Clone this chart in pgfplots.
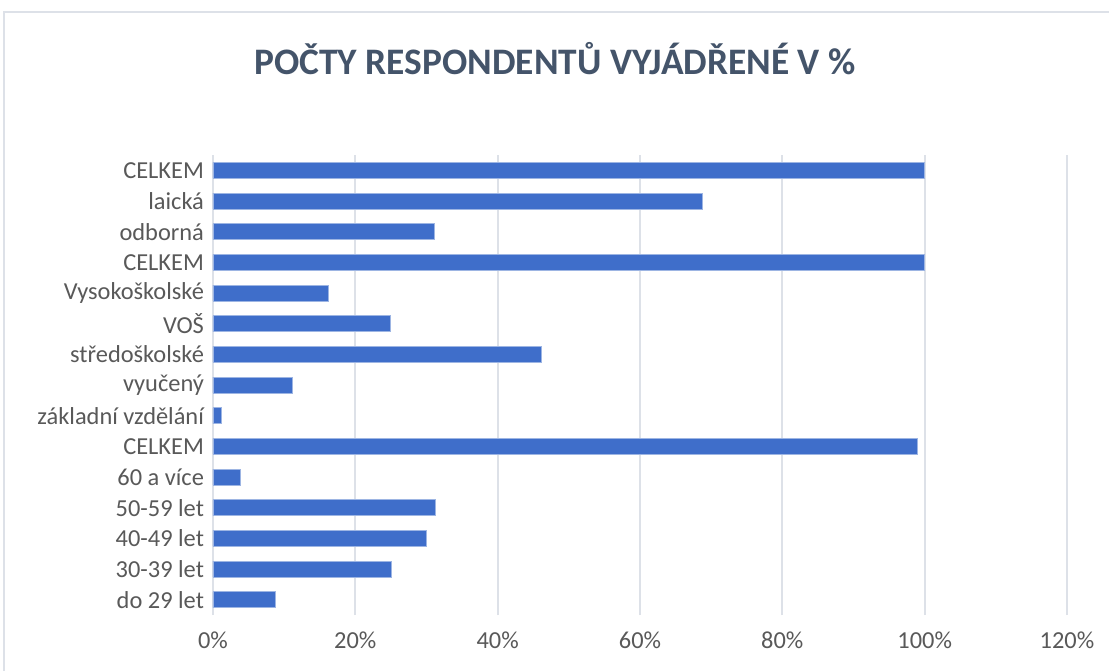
\documentclass[border=0pt]{standalone}
\usepackage{pgfplots}
\pgfplotsset{compat=1.18}
\usepackage{fontspec}
\setmainfont{Carlito}
\definecolor{titlec}{HTML}{44546A}
\definecolor{labc}{HTML}{595959}
\definecolor{gridc}{HTML}{DDE1E8}
\definecolor{barc}{HTML}{3F6ECA}
\definecolor{baredge}{HTML}{9DB5E3}
\begin{document}
\begin{tikzpicture}
\useasboundingbox (0,0) rectangle (554.5pt,335.5pt);
\fill[white] (0,0) rectangle (554.5pt,335.5pt);
\draw[gridc, line width=0.8pt] (2pt,0) -- (2pt,329.5pt) -- (554.5pt,329.5pt);
\node[font=\fontsize{18.7}{22}\selectfont\bfseries, text=titlec] at (277.5pt,306pt) {POČTY RESPONDENTŮ VYJÁDŘENÉ V \%};
\begin{axis}[
  at={(106.5pt,28pt)}, anchor=south west,
  scale only axis, width=427pt, height=230pt,
  xmin=0, xmax=120, ymin=-0.5, ymax=14.5,
  xtick={0,20,...,120},
  xticklabel={\pgfmathprintnumber{\tick}\%},
  /pgf/number format/assume math mode=true,
  ytick={0,...,14},
  yticklabels={do 29 let,30-39 let,40-49 let,50-59 let,60 a více,CELKEM,základní vzdělání,vyučený,středoškolské,VOŠ,Vysokoškolské,CELKEM,odborná,laická,CELKEM},
  axis line style={draw=none},
  major tick length=0pt,
  xmajorgrids, grid style={gridc, line width=0.9pt},
  tick label style={font=\fontsize{12.2}{14}\selectfont, text=labc},
  xticklabel style={yshift=-5pt},
  yticklabel style={xshift=-1pt},
  xbar, bar width=8pt,
  clip=false,
]
\addplot[fill=barc, draw=baredge, line width=0.3pt] coordinates {
(8.8,0) (25.0,1) (30.0,2) (31.3,3) (3.8,4) (98.9,5) (1.2,6) (11.2,7) (46.1,8) (24.9,9) (16.2,10) (100,11) (31.1,12) (68.7,13) (100,14)
};
\end{axis}
\end{tikzpicture}
\end{document}
